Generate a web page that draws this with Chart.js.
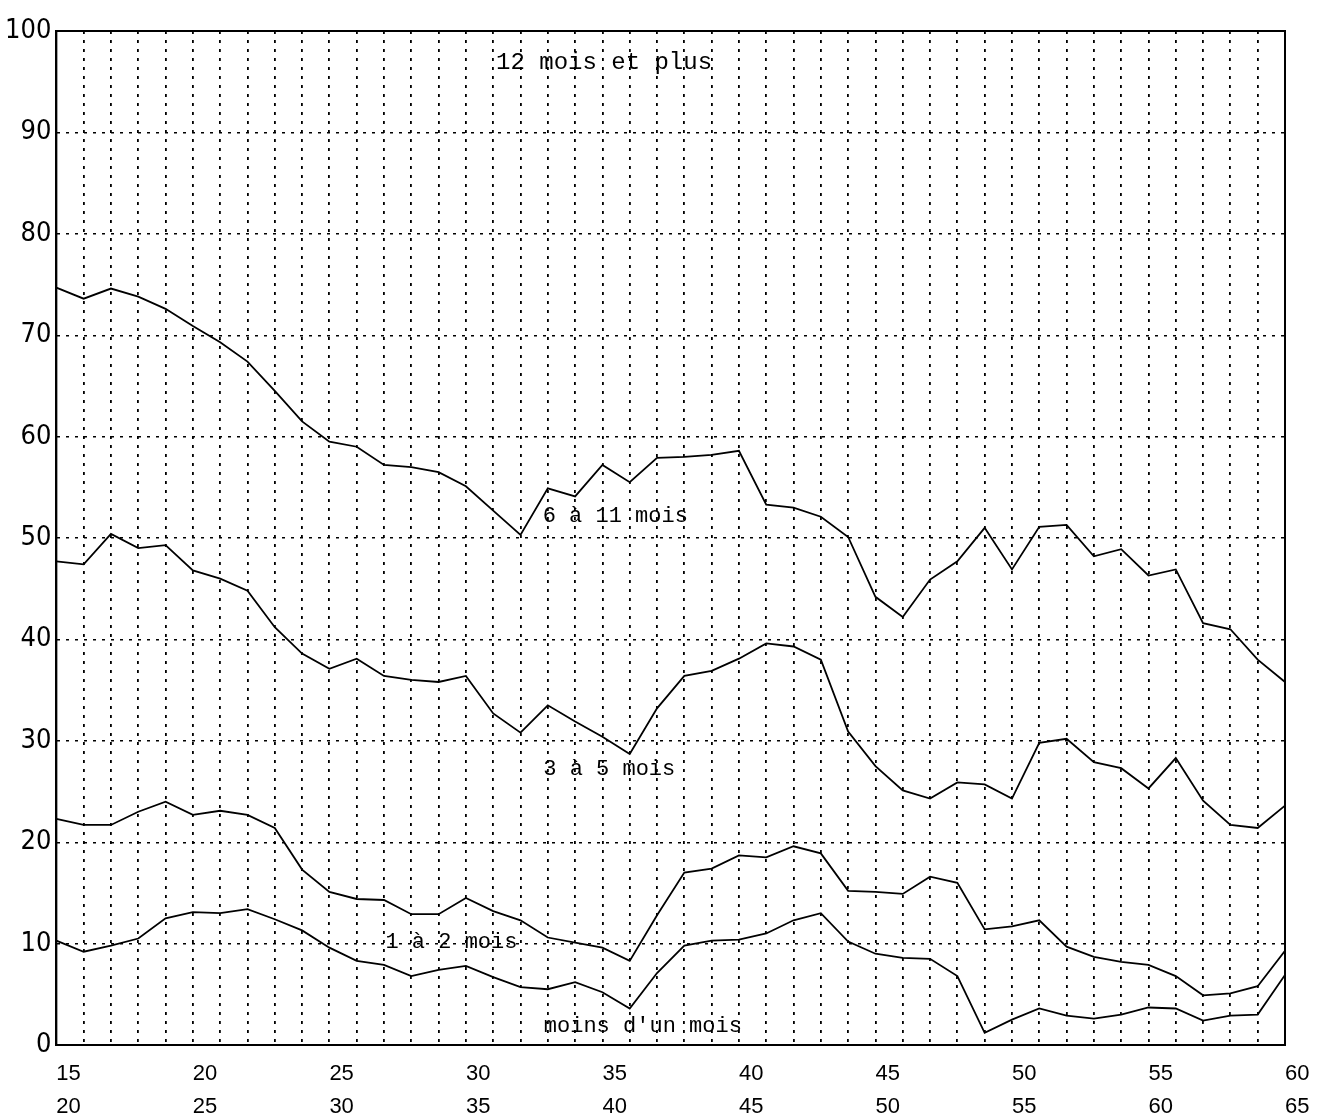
<!DOCTYPE html>
<html>
<head>
<meta charset="utf-8">
<script src="https://cdn.jsdelivr.net/npm/chart.js@4.4.1/dist/chart.umd.min.js"></script>
<style>
html,body{margin:0;padding:0;background:#ffffff;}
#wrap{width:1323px;height:1119px;}
</style>
</head>
<body>
<div id="wrap"><canvas id="c" width="1323" height="1119"></canvas></div>
<script>
// x categories (age)
const ages = [15,16,17,18,19,20,21,22,23,24,25,26,27,28,29,30,31,32,33,34,35,36,37,38,39,40,41,42,43,44,45,46,47,48,49,50,51,52,53,54,55,56,57,58,59,60];

// cumulative percentage boundaries
const moinsUnMois = [10.3,9.2,9.8,10.5,12.5,13.1,13.0,13.4,12.4,11.3,9.6,8.3,7.9,6.8,7.4,7.8,6.7,5.7,5.5,6.2,5.2,3.6,7.1,9.8,10.3,10.4,11.0,12.3,13.0,10.2,9.0,8.6,8.5,6.8,1.2,2.5,3.6,2.9,2.6,3.0,3.7,3.6,2.4,2.9,3.0,6.9];
const unADeuxMois = [22.3,21.7,21.7,23.0,24.0,22.7,23.1,22.7,21.4,17.3,15.1,14.4,14.3,12.9,12.9,14.5,13.2,12.3,10.6,10.1,9.6,8.3,12.8,17.0,17.4,18.7,18.5,19.6,18.9,15.2,15.1,14.9,16.6,16.0,11.4,11.7,12.3,9.7,8.7,8.2,7.9,6.8,4.9,5.1,5.8,9.3];
const troisACinqMois = [47.7,47.4,50.4,49.0,49.3,46.8,46.0,44.8,41.2,38.6,37.1,38.1,36.4,36.0,35.8,36.4,32.7,30.8,33.5,31.9,30.4,28.7,33.2,36.4,36.9,38.1,39.6,39.3,38.0,30.9,27.5,25.1,24.3,25.9,25.7,24.3,29.8,30.2,27.9,27.3,25.3,28.3,24.1,21.7,21.4,23.6];
const sixAOnzeMois = [74.7,73.6,74.6,73.8,72.6,70.9,69.3,67.4,64.5,61.5,59.5,59.0,57.2,57.0,56.5,55.1,52.7,50.3,54.9,54.1,57.2,55.5,57.9,58.0,58.2,58.6,53.3,53.0,52.1,50.1,44.2,42.2,45.9,47.7,51.0,46.9,51.1,51.3,48.2,48.9,46.3,46.9,41.6,41.0,38.0,35.8];

// tick labels
const xTickTop = ['15','20','25','30','35','40','45','50','55','60'];
const xTickBottom = ['20','25','30','35','40','45','50','55','60','65'];
const yTickLabels = ['0','10','20','30','40','50','60','70','80','90','100'];

// band names written inside the chart
const bandNames = ['12 mois et plus','6 à 11 mois','3 à 5 mois','1 à 2 mois',"moins d'un mois"];

const toPoints = arr => arr.map((v, i) => ({x: ages[i], y: v}));
const lineStyle = {borderColor:'#000', borderWidth:1.8, pointRadius:0, tension:0, fill:false};

const framePlugin = {
  id: 'frame',
  afterDraw(chart) {
    const {ctx, chartArea: a} = chart;
    ctx.save();
    ctx.strokeStyle = '#000';
    ctx.lineWidth = 2;
    ctx.setLineDash([]);
    ctx.strokeRect(a.left, a.top, a.right - a.left, a.bottom - a.top);
    ctx.restore();
  }
};

const bandLabelPlugin = {
  id: 'bandLabels',
  afterDatasetsDraw(chart, args, opts) {
    const {ctx, scales: {x, y}} = chart;
    ctx.save();
    ctx.fillStyle = '#000';
    ctx.textAlign = 'center';
    ctx.textBaseline = 'middle';
    opts.anchors.forEach((p, i) => {
      ctx.font = p.size + 'px ' + opts.family;
      ctx.fillText(bandNames[i], x.getPixelForValue(p.x), y.getPixelForValue(p.y));
    });
    ctx.restore();
  }
};

new Chart(document.getElementById('c'), {
  type: 'line',
  data: {
    datasets: [
      Object.assign({label: bandNames[4], data: toPoints(moinsUnMois)}, lineStyle),
      Object.assign({label: bandNames[3], data: toPoints(unADeuxMois)}, lineStyle),
      Object.assign({label: bandNames[2], data: toPoints(troisACinqMois)}, lineStyle),
      Object.assign({label: bandNames[1], data: toPoints(sixAOnzeMois)}, lineStyle)
    ]
  },
  options: {
    responsive: false,
    animation: false,
    events: [],
    layout: {padding: {left: 0, right: 38, top: 31, bottom: -16}},
    plugins: {
      legend: {display: false},
      tooltip: {enabled: false},
      bandLabels: {
        family: '"Liberation Mono", "DejaVu Sans Mono", monospace',
        anchors: [
          {x: 35.06, y: 96.9, size: 24},
          {x: 35.47, y: 52.2, size: 22},
          {x: 35.25, y: 27.2, size: 22},
          {x: 29.47, y: 10.1, size: 22},
          {x: 36.48, y: 1.9, size: 22}
        ]
      }
    },
    scales: {
      x: {
        type: 'linear',
        min: 15, max: 60,
        grid: {color: '#000', lineWidth: 1.8, drawTicks: false},
        border: {display: true, color: '#000', width: 2, dash: [3, 6]},
        ticks: {
          stepSize: 1,
          autoSkip: false,
          maxRotation: 0,
          align: 'start',
          padding: 12,
          color: '#000',
          font: {family: '"Liberation Sans", Arial, sans-serif', size: 22, lineHeight: 1.5},
          callback: (v) => {
            if (v % 5 !== 0) return '';
            const k = (v - 15) / 5;
            return [xTickTop[k], xTickBottom[k]];
          }
        }
      },
      y: {
        min: 0, max: 100,
        grid: {color: '#000', lineWidth: 1.4, drawTicks: false},
        border: {display: true, color: '#000', width: 2, dash: [3, 6]},
        ticks: {
          stepSize: 10,
          padding: 5,
          color: '#000',
          font: {family: '"Liberation Sans Narrow", "DejaVu Sans Condensed", sans-serif', size: 27},
          callback: (v) => yTickLabels[Math.round(v / 10)]
        }
      }
    }
  },
  plugins: [framePlugin, bandLabelPlugin]
});
</script>
</body>
</html>
